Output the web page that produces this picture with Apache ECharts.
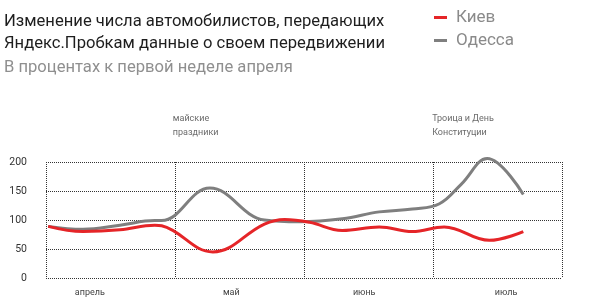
<!DOCTYPE html>
<html><head><meta charset="utf-8">
<script src="https://cdn.jsdelivr.net/npm/echarts@6/dist/echarts.min.js"></script>
<style>html,body{margin:0;padding:0;background:#fff}#c{width:603px;height:297px}</style>
</head><body><div id="c"></div>
<script>
// x values: days from axis start (axis spans 0..120)
const kievX =   [0.5, 8.6, 17.2, 25.3, 26.9, 38.8, 50.8, 55.5, 61.3, 68.9, 77.5, 85.2, 92.6, 103.1, 111];
const kievY =   [89,  80,  83,   91,   90,   45,   93,   101,  96,   82,   88,   80,   88,   65,    80];
const odessaX = [0.5, 8.6, 17.2, 25.3, 26.9, 38.1, 50.8, 59,   68.9, 77.5, 85.2, 91.5, 96.6, 102.6, 111];
const odessaY = [89,  84,  91,   99,   99,   155,  100,  97,   102,  114,  119,  128,  162,  206,   144];
const monthLabels = ['апрель', 'май', 'июнь', 'июль'];
const monthPos = [10.2, 43.1, 74.0, 107.0];
const notes = [
  {x: 29.5, text: 'майские\nпраздники'},
  {x: 89.8, text: 'Троица и День\nКонституции'}
];
const seriesNames = ['Киев', 'Одесса'];
const colors = ['#e52528', '#7f7f7f'];

const font = 'Roboto, "Noto Sans", sans-serif';
const chart = echarts.init(document.getElementById('c'), null, {renderer: 'canvas'});
const zip = (xs, ys) => xs.map((x, i) => [x, ys[i]]);
chart.setOption({
  animation: false,
  title: [{
    text: 'Изменение числа автомобилистов, передающих\nЯндекс.Пробкам данные о своем передвижении',
    subtext: 'В процентах к первой неделе апреля',
    left: -1, top: 6, itemGap: 2,
    textStyle: {fontFamily: font, fontSize: 16.6, fontWeight: 'normal', color: '#1e1e1e', lineHeight: 22},
    subtextStyle: {fontFamily: font, fontSize: 16.6, color: '#8f8f8f', lineHeight: 22}
  }],
  legend: {
    orient: 'vertical', left: 429, top: 4, itemGap: 6,
    itemWidth: 13, itemHeight: 3, icon: 'rect',
    textStyle: {fontFamily: font, fontSize: 17, color: '#8a8a8a', padding: [0, 0, 0, 4]},
    data: seriesNames
  },
  grid: {left: 46, right: 41, top: 162, bottom: 18, containLabel: false},
  xAxis: [{
    type: 'value', min: 0, max: 120, interval: 30,
    axisLine: {show: false}, axisTick: {show: false},
    splitLine: {show: true, showMinLine: true, showMaxLine: true, lineStyle: {type: [1, 1], color: '#333', width: 1}},
    axisLabel: {
      customValues: monthPos,
      formatter: (v) => { const i = monthPos.findIndex(p => Math.abs(p - v) < 0.01); return i >= 0 ? monthLabels[i] : ''; },
      fontFamily: font, fontSize: 9, color: '#444', margin: 10
    }
  }],
  yAxis: {
    type: 'value', min: 0, max: 200, interval: 50,
    axisLine: {show: false}, axisTick: {show: false},
    splitLine: {show: true, showMinLine: true, showMaxLine: true, lineStyle: {type: [1, 1], color: '#333', width: 1}},
    axisLabel: {fontFamily: font, fontSize: 10.5, color: '#333', margin: 19}
  },
  series: [
    {
      name: seriesNames[1], type: 'line', smooth: 0.4, symbol: 'none', clip: false,
      data: zip(odessaX, odessaY), color: colors[1],
      lineStyle: {width: 3, color: colors[1]}, z: 2
    },
    {
      name: seriesNames[0], type: 'line', smooth: 0.4, symbol: 'none', clip: false,
      data: zip(kievX, kievY), color: colors[0],
      lineStyle: {width: 3, color: colors[0]}, z: 3
    },
    {
      type: 'scatter', symbolSize: 0, silent: true, z: 5, clip: false,
      data: notes.map(n => ({value: [n.x, 200], label: {formatter: n.text}})),
      label: {show: true, position: 'top', align: 'left', offset: [0, -22], distance: 0,
        fontFamily: font, fontSize: 9, color: '#444', lineHeight: 14}
    }
  ]
});
</script></body></html>
